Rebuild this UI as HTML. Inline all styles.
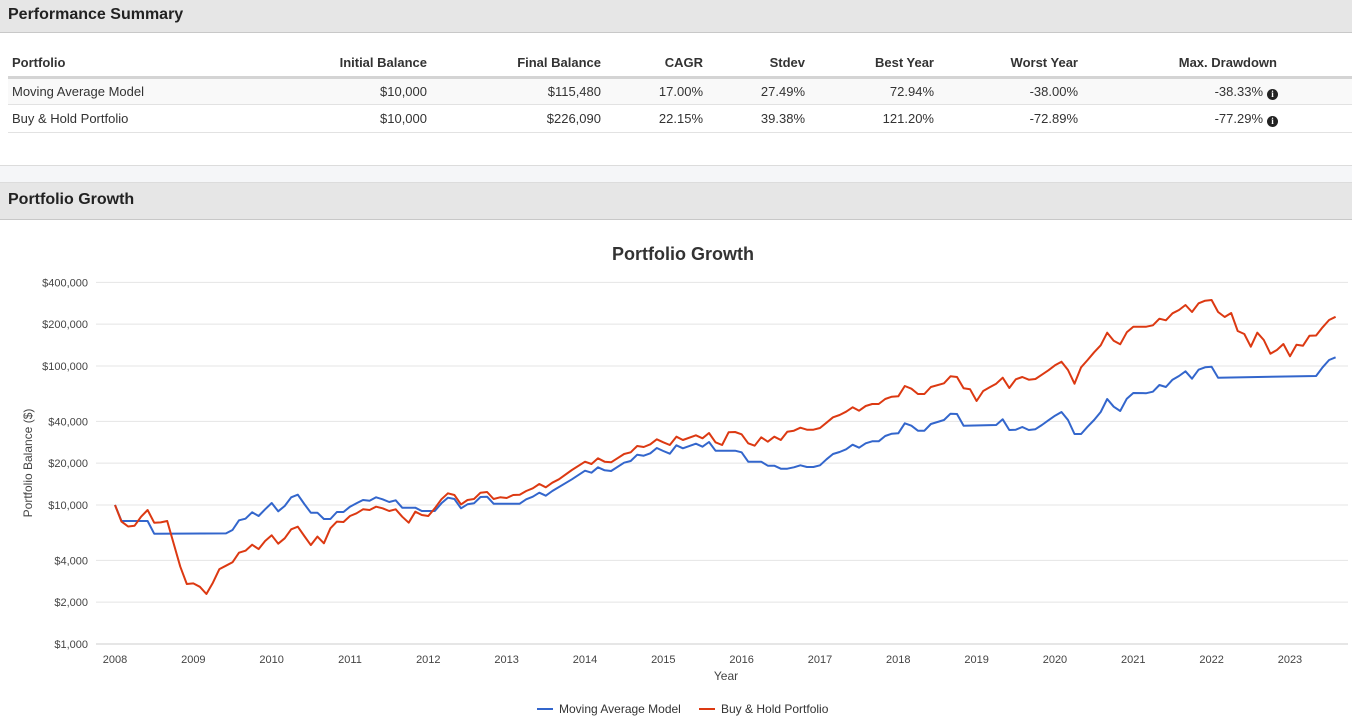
<!DOCTYPE html>
<html><head><meta charset="utf-8"><style>
*{margin:0;padding:0;box-sizing:border-box}
body{width:1352px;height:726px;background:#fff;font-family:"Liberation Sans",Arial,sans-serif;color:#333;position:relative;overflow:hidden}
.hdr{position:absolute;left:0;width:1352px;background:#e6e6e6;font-weight:bold;font-size:16px;color:#222;padding-left:8px}
.t{position:absolute;font-size:13px;white-space:nowrap}
.r{text-align:right}
.info{display:inline-block;width:11px;height:11px;border-radius:50%;background:#222;color:#fff;font-size:9px;font-weight:bold;text-align:center;line-height:11px;font-family:"Liberation Serif",serif;vertical-align:-1px;margin-left:4px}
</style></head><body>
<div class="hdr" style="top:0;height:33px;line-height:30px;border-bottom:1px solid #c8c8c8">Performance Summary</div>
<div>
<div style="position:absolute;left:8px;top:76px;width:1344px;height:3px;background:#d4d4d4"></div>
<div style="position:absolute;left:8px;top:79px;width:1344px;height:26px;background:#f9f9f9;border-bottom:1px solid #e2e2e2"></div>
<div style="position:absolute;left:8px;top:132px;width:1344px;height:1px;background:#e2e2e2"></div>
<div id="cols"></div>
</div>
<div style="position:absolute;left:0;top:165px;width:1352px;height:18px;background:#f5f6f8;border-top:1px solid #dcdcdc;border-bottom:1px solid #dcdcdc"></div>
<div class="hdr" style="top:183px;height:37px;line-height:34px;border-bottom:1px solid #c8c8c8">Portfolio Growth</div>
<svg id="chart" width="1352" height="506" style="position:absolute;left:0;top:220px" font-family="Liberation Sans, Arial, sans-serif"></svg>
<script>
// table
const heads=["Portfolio","Initial Balance","Final Balance","CAGR","Stdev","Best Year","Worst Year","Max. Drawdown"];
const rowA=["Moving Average Model","$10,000","$115,480","17.00%","27.49%","72.94%","-38.00%","-38.33%"];
const rowB=["Buy & Hold Portfolio","$10,000","$226,090","22.15%","39.38%","121.20%","-72.89%","-77.29%"];
const rights=[0,427,601,703,805,934,1078,1277];
const cols=document.getElementById('cols');
function cell(txt,ci,top,bold,ri){
  const d=document.createElement('div');
  d.className='t';
  
  
  d.style.top=top+'px';
  if(bold)d.style.fontWeight='bold';
  if(ci===0){d.style.left='12px';d.textContent=txt;}
  else{
    d.style.right=(1352-rights[ci])+'px';d.style.textAlign='right';
    if(ci===7&&!bold){d.style.right=(1352-1278)+'px';d.innerHTML=txt+'<span class="info">i</span>';}
    else d.textContent=txt;
  }
  cols.appendChild(d);
}
heads.forEach((h,i)=>cell(h,i,55,true));
rowA.forEach((h,i)=>cell(h,i,84,false));
rowB.forEach((h,i)=>cell(h,i,111,false));

// chart data (months since Jan 2008, balances in $)
const maMonths=[0,1,5,6,17,18,19,20,21,22,23,24,25,26,27,28,29,30,31,32,33,34,35,36,37,38,39,40,41,42,43,44,46,47,49,50,51,52,53,54,55,56,57,58,62,63,64,65,66,67,70,72,73,74,75,76,78,79,80,81,82,83,84,85,86,87,89,90,91,92,95,96,97,99,100,101,102,103,104,105,106,107,108,109,110,111,112,113,114,115,116,117,118,119,120,121,122,123,124,125,127,128,129,130,135,136,137,138,139,140,141,142,143,144,145,146,147,148,149,150,151,152,153,154,155,156,158,159,160,161,162,163,164,165,166,167,168,169,184,185,186,187];
const maValues=[10000,7670,7670,6220,6250,6610,7760,7970,8860,8340,9310,10330,9010,9830,11360,11860,10170,8800,8800,7930,7930,8900,8900,9720,10280,10860,10740,11360,10990,10510,10810,9560,9560,9050,9050,10280,11290,11050,9470,10120,10280,11420,11470,10220,10220,10990,11470,12260,11670,12610,15310,17650,17070,18670,17770,17570,20150,20730,23000,22630,23550,25710,24470,23390,26890,25580,27610,26260,28390,24590,24590,23940,20490,20490,19180,19180,18240,18240,18670,19310,18760,18760,19310,21320,23280,24060,25160,27160,25840,27790,28730,28730,31360,32580,32800,38710,37200,34260,34260,38260,40890,45390,45160,37200,37640,41370,34640,34830,36400,34640,35100,37640,40660,43900,46670,40890,32420,32420,36590,40890,46670,57900,50970,47460,58200,63950,63700,65330,73000,70630,79680,84730,91620,81020,94050,97900,98880,82400,84730,97900,110500,115480];
const bhMonths=[0,1,2,3,4,5,6,7,8,10,11,12,13,14,15,16,17,18,19,20,21,22,23,24,25,26,27,28,29,30,31,32,33,34,35,36,37,38,39,40,41,42,43,44,45,46,47,48,49,50,51,52,53,54,55,56,57,58,59,60,61,62,63,64,65,66,67,68,70,72,73,74,75,76,78,79,80,81,82,83,84,85,86,87,89,90,91,92,93,94,95,96,97,98,99,100,101,102,103,104,105,106,107,108,109,110,111,112,113,114,115,116,117,118,119,120,121,122,123,124,125,127,128,129,130,131,132,133,134,135,136,137,138,139,140,141,142,143,144,145,146,147,148,149,150,151,152,153,154,155,156,158,159,160,161,162,163,164,165,166,167,168,169,170,171,172,173,174,175,176,177,178,179,180,181,182,183,184,185,186,187];
const bhValues=[10000,7600,7000,7100,8240,9200,7460,7500,7670,3600,2700,2730,2580,2290,2760,3460,3660,3870,4540,4690,5180,4820,5510,6050,5270,5760,6690,6980,5980,5150,5920,5300,6800,7600,7550,8340,8710,9310,9200,9720,9470,9050,9310,8240,7460,8950,8470,8340,9470,10990,12140,11800,10100,10860,11050,12260,12400,11050,11360,11230,11800,11850,12610,13190,14160,13410,14470,15310,17860,20490,19720,21680,20490,20280,23280,23940,26580,26140,27330,29700,28250,27020,31000,29360,31720,30190,32960,28250,27020,33340,33500,32260,27790,26710,30700,28530,31000,29360,33680,34260,35980,34830,34830,35810,39090,42760,44410,46900,50460,47700,51540,53300,53300,57900,60140,60500,71780,68690,62900,62900,70630,75100,84300,83330,69140,67980,56000,66120,70300,74600,82400,69500,80200,83330,79680,80600,86550,93100,101150,107400,93600,74600,97900,110500,125500,140900,173700,152100,143300,174800,191800,191800,196300,218900,213100,239300,252900,274800,244500,282500,295100,298500,244500,225200,240600,178600,169900,137700,173700,153800,122600,130300,143900,117400,142300,140000,165200,165800,189900,214300,226090];
const yTicks=[1000,2000,4000,10000,20000,40000,100000,200000,400000];
const yTickLabels=["$1,000","$2,000","$4,000","$10,000","$20,000","$40,000","$100,000","$200,000","$400,000"];
const xYears=[2008,2009,2010,2011,2012,2013,2014,2015,2016,2017,2018,2019,2020,2021,2022,2023];

const svg=document.getElementById('chart');
const NS='http://www.w3.org/2000/svg';
const OY=220;
const X0=115, PXY=78.33;
function xm(m){return X0+m*PXY/12;}
function xy(y){return X0+(y-2008)*PXY;}
function yv(v){return 644-OY-(Math.log10(v)-3)*139;}
function mk(tag,attrs,text){const e=document.createElementNS(NS,tag);for(const k in attrs)e.setAttribute(k,attrs[k]);if(text!=null)e.textContent=text;svg.appendChild(e);return e;}

let e=mk('text',{x:683,y:40,'text-anchor':'middle','font-size':18,'font-weight':'bold',fill:'#333'},'Portfolio Growth');



yTicks.forEach((t,i)=>{
  const y=yv(t);
  const g=mk('line',{x1:96,x2:1348,y1:y,y2:y,stroke:i===0?'#ccc':'#e4e4e4','stroke-width':1});
  
  
  const l=mk('text',{x:88,y:y+4,'text-anchor':'end','font-size':11,fill:'#444'},yTickLabels[i]);
  
  
});
xYears.forEach(yr=>{
  const l=mk('text',{x:xy(yr),y:443,'text-anchor':'middle','font-size':11,fill:'#444'},String(yr));
  
  
});
e=mk('text',{x:726,y:460,'text-anchor':'middle','font-size':12,fill:'#444'},'Year');


e=mk('text',{x:0,y:0,'text-anchor':'middle','font-size':12,fill:'#444',transform:'translate(32,243) rotate(-90)'},'Portfolio Balance ($)');



function series(ms,vs,col,name){
  const p=ms.map((m,i)=>xm(m).toFixed(1)+','+yv(vs[i]).toFixed(1)).join(' ');
  const l=mk('polyline',{points:p,fill:'none',stroke:col,'stroke-width':2,'stroke-linejoin':'round'});
  
  
}
series(maMonths,maValues,'#3366cc','moving-average-line');
series(bhMonths,bhValues,'#dc3912','buy-hold-line');

function legend(x,col,txt,name){
  const ln=mk('line',{x1:x,x2:x+16,y1:489,y2:489,stroke:col,'stroke-width':2});
  
  
  const t=mk('text',{x:x+22,y:493,'font-size':12,fill:'#333'},txt);
  
  
}
legend(537,'#3366cc','Moving Average Model','legend-moving-average');
legend(699,'#dc3912','Buy & Hold Portfolio','legend-buy-hold');
</script>
</body></html>
